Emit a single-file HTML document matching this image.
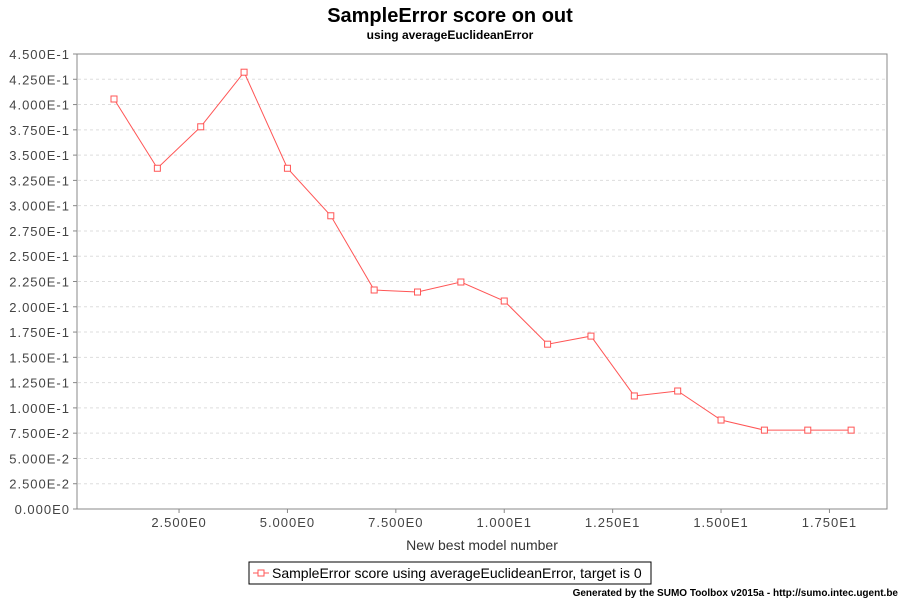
<!DOCTYPE html>
<html><head><meta charset="utf-8"><style>
body{margin:0;background:#fff;}
svg text{font-family:"Liberation Sans",sans-serif;}
</style></head><body>
<svg id="chart" width="900" height="600" xmlns="http://www.w3.org/2000/svg">
<rect width="900" height="600" fill="#fff"/>
<text x="450" y="22" text-anchor="middle" font-size="20" font-weight="bold">SampleError score on out</text>
<text x="450" y="39" text-anchor="middle" font-size="12" font-weight="bold">using averageEuclideanError</text>
<rect x="77" y="54" width="810" height="455" fill="#fff" stroke="#888"/>
<g id="grid"></g><g id="yt"></g><g id="xt"></g><g id="series"></g>
<text x="482" y="550" text-anchor="middle" font-size="14" fill="#333">New best model number</text>
<g>
<rect x="249" y="562" width="402" height="22" fill="#fff" stroke="#000"/>
<line x1="253" y1="573" x2="269" y2="573" stroke="#f55"/>
<rect x="258" y="570" width="6" height="6" fill="#fff" stroke="#f55"/>
<text x="272" y="578" font-size="14">SampleError score using averageEuclideanError, target is 0</text>
</g>
<text x="898" y="596" text-anchor="end" font-size="10" font-weight="bold">Generated by the SUMO Toolbox v2015a - http://sumo.intec.ugent.be</text>
</svg>
<script>
const xValues=[1,2,3,4,5,6,7,8,9,10,11,12,13,14,15,16,17,18];
const yValues=[0.4055,0.337,0.378,0.432,0.337,0.290,0.2166,0.2146,0.2245,0.2057,0.163,0.171,0.1118,0.1167,0.088,0.078,0.078,0.078];
const yTicks=[0,0.025,0.05,0.075,0.1,0.125,0.15,0.175,0.2,0.225,0.25,0.275,0.3,0.325,0.35,0.375,0.4,0.425,0.45];
const yTickLabels=["0.000E0","2.500E-2","5.000E-2","7.500E-2","1.000E-1","1.250E-1","1.500E-1","1.750E-1","2.000E-1","2.250E-1","2.500E-1","2.750E-1","3.000E-1","3.250E-1","3.500E-1","3.750E-1","4.000E-1","4.250E-1","4.500E-1"];
const xTicks=[2.5,5,7.5,10,12.5,15,17.5];
const xTickLabels=["2.500E0","5.000E0","7.500E0","1.000E1","1.250E1","1.500E1","1.750E1"];
const NS="http://www.w3.org/2000/svg";
const X=v=>114+(v-1)*43.36, Y=v=>509-v*1011.1;
function mk(t,a,p){const e=document.createElementNS(NS,t);for(const k in a)e.setAttribute(k,a[k]);p.appendChild(e);return e;}
const g=document.getElementById('grid'),yt=document.getElementById('yt'),xt=document.getElementById('xt'),s=document.getElementById('series');
yTicks.forEach((v,i)=>{const y=Y(v);
 if(i>0&&v<0.45){const l=mk('line',{x1:78,x2:886,y1:y,y2:y,stroke:'#ddd','stroke-dasharray':'3,3'},g);
 
 }
 mk('line',{x1:73,x2:77,y1:y,y2:y,stroke:'#888'},yt);
 const t=mk('text',{x:70,y:y+5,'text-anchor':'end','font-size':13,'letter-spacing':'1',fill:'#444'},yt);t.textContent=yTickLabels[i];
 
 });
xTicks.forEach((v,i)=>{const x=X(v);
 mk('line',{x1:x,x2:x,y1:509,y2:513,stroke:'#888'},xt);
 const t=mk('text',{x:x,y:527,'text-anchor':'middle','font-size':13,'letter-spacing':'1',fill:'#444'},xt);t.textContent=xTickLabels[i];
 
 });
const pl=mk('polyline',{points:xValues.map((x,i)=>X(x)+','+Y(yValues[i])).join(' '),fill:'none',stroke:'#f55'},s);


xValues.forEach((x,i)=>{const r=mk('rect',{x:X(x)-3,y:Y(yValues[i])-3,width:6,height:6,fill:'#fff',stroke:'#f55'},s);
 
 });
</script>
</body></html>
